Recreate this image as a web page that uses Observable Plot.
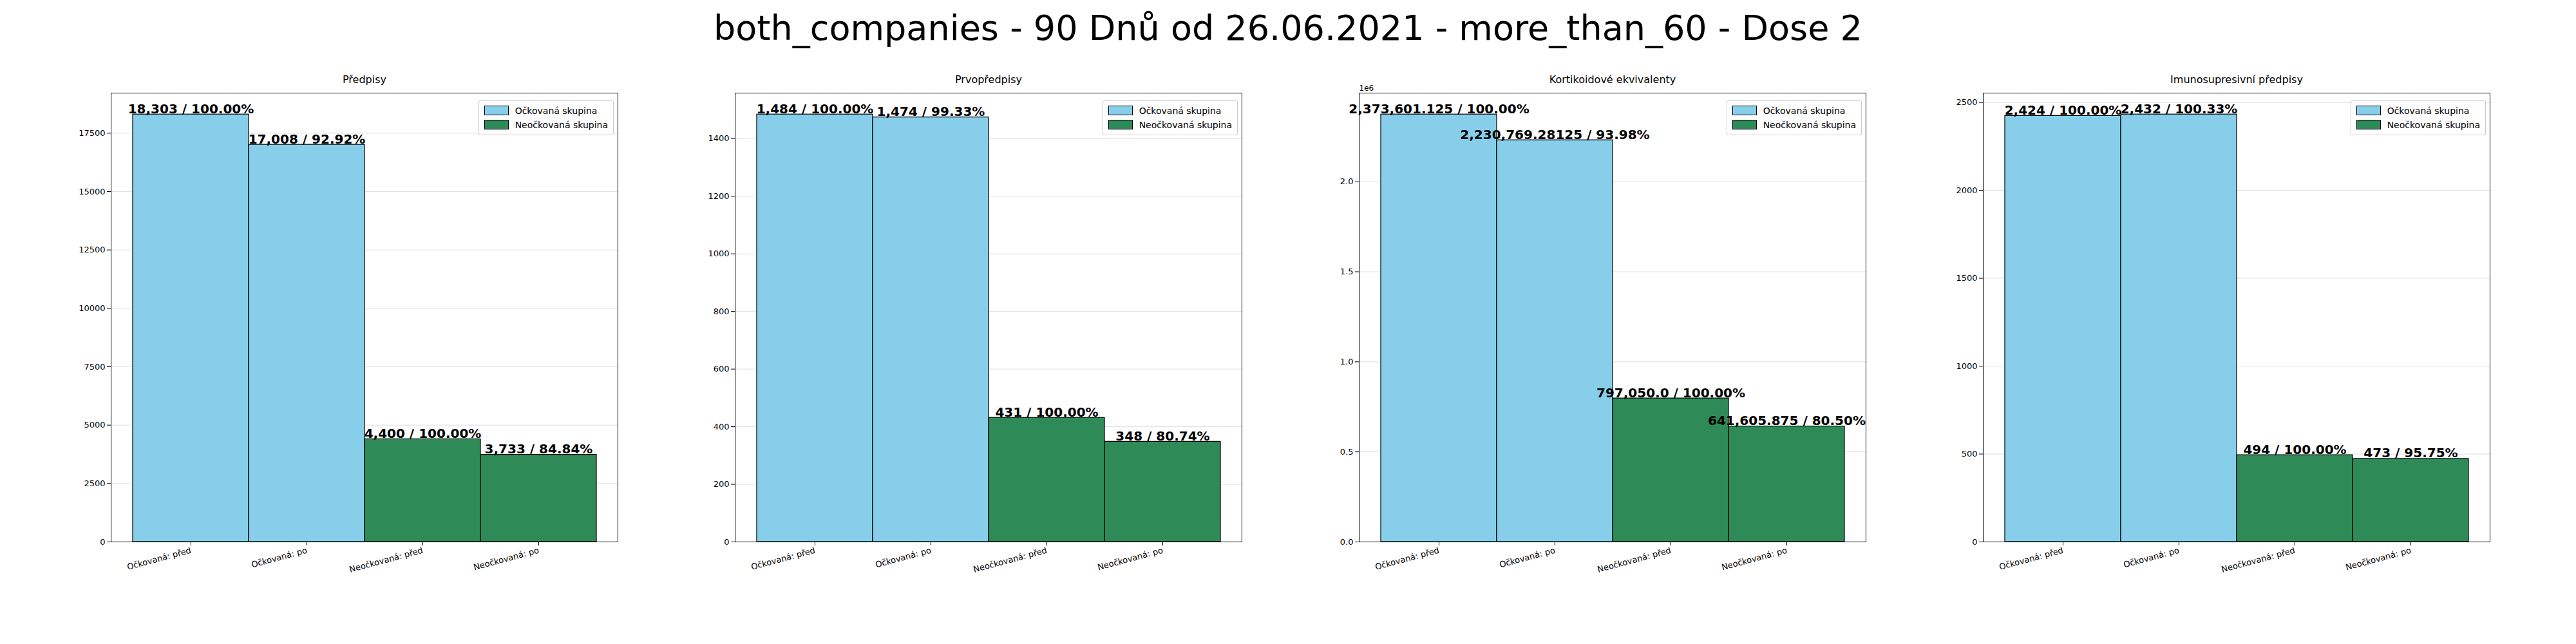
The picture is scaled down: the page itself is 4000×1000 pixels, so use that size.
<!DOCTYPE html>
<html>
<head>
<meta charset="utf-8">
<script src="https://cdn.jsdelivr.net/npm/d3@7"></script>
<script src="https://cdn.jsdelivr.net/npm/@observablehq/plot@0.6"></script>
<style>
  body { margin: 0; background: white; font-family: "DejaVu Sans", sans-serif; }
  #title { position: absolute; top: 12px; width: 4000px; text-align: center; font-size: 54px; }
  #charts { position: absolute; top: 100px; left: 0; display: flex; }
  .panel { position: relative; width: 969px; }
  .legend { position: absolute; top: 56px; right: 16px; border: 1px solid #ccc; border-radius: 3px;
            background: rgba(255,255,255,0.8); padding: 4px 8px; font-size: 14px; line-height: 22px; }
  .sw { display: inline-block; width: 36px; height: 13px; border: 1px solid black; vertical-align: -2px; margin-right: 10px; }
</style>
</head>
<body>
<div id="title">both_companies - 90 Dnů od 26.06.2021 - more_than_60 - Dose 2</div>
<div id="charts"></div>
<script>
const categories = ["Očkovaná: před", "Očkovaná: po", "Neočkovaná: před", "Neočkovaná: po"];
const groups = ["Očkovaná skupina", "Očkovaná skupina", "Neočkovaná skupina", "Neočkovaná skupina"];
const panelTitles = ["Předpisy", "Prvopředpisy", "Kortikoidové ekvivalenty", "Imunosupresivní předpisy"];

const predpisy = [18303, 17008, 4400, 3733];
const prvopredpisy = [1484, 1474, 431, 348];
const kortikoidy = [2373601.125, 2230769.28125, 797050.0, 641605.875];
const imuno = [2424, 2432, 494, 473];

const predpisyLabels = ["18,303 / 100.00%", "17,008 / 92.92%", "4,400 / 100.00%", "3,733 / 84.84%"];
const prvopredpisyLabels = ["1,484 / 100.00%", "1,474 / 99.33%", "431 / 100.00%", "348 / 80.74%"];
const kortikoidyLabels = ["2,373,601.125 / 100.00%", "2,230,769.28125 / 93.98%", "797,050.0 / 100.00%", "641,605.875 / 80.50%"];
const imunoLabels = ["2,424 / 100.00%", "2,432 / 100.33%", "494 / 100.00%", "473 / 95.75%"];

const predpisyTicks = [0, 2500, 5000, 7500, 10000, 12500, 15000, 17500];
const prvopredpisyTicks = [0, 200, 400, 600, 800, 1000, 1200, 1400];
const kortikoidyTicks = [0, 500000, 1000000, 1500000, 2000000];
const imunoTicks = [0, 500, 1000, 1500, 2000, 2500];

const panels = [
  {values: predpisy, labels: predpisyLabels, ticks: predpisyTicks, fmt: d3.format("d")},
  {values: prvopredpisy, labels: prvopredpisyLabels, ticks: prvopredpisyTicks, fmt: d3.format("d")},
  {values: kortikoidy, labels: kortikoidyLabels, ticks: kortikoidyTicks, fmt: d => (d / 1e6).toFixed(1), exp: "1e6"},
  {values: imuno, labels: imunoLabels, ticks: imunoTicks, fmt: d3.format("d")}
];

const colors = {"Očkovaná skupina": "#87CEEB", "Neočkovaná skupina": "#2E8B57"};

panels.forEach((p, i) => {
  const data = categories.map((c, j) => ({cat: c, group: groups[j], value: p.values[j], label: p.labels[j]}));
  const ymax = d3.max(p.values) * 1.05;
  const chart = Plot.plot({
    width: 969,
    height: 821,
    marginLeft: 172,
    marginRight: 10,
    marginTop: 44,
    marginBottom: 80,
    style: {fontSize: "13px", fontFamily: "DejaVu Sans, sans-serif"},
    x: {domain: categories, paddingInner: 0, paddingOuter: 0.175, label: null, tickRotate: -15, tickSize: 6},
    y: {domain: [0, ymax], ticks: p.ticks, tickFormat: p.fmt, label: null, tickSize: 6},
    color: {domain: Object.keys(colors), range: Object.values(colors)},
    marks: [
      Plot.gridY(p.ticks, {stroke: "#ccc", strokeOpacity: 0.6}),
      Plot.barY(data, {x: "cat", y: "value", fill: "group", stroke: "black", strokeWidth: 1.2, inset: 0}),
      Plot.text(data, {x: "cat", y: "value", text: "label", lineAnchor: "bottom", dy: -2,
                       fontSize: 20, fontWeight: "bold", fill: "black"}),
      Plot.text([panelTitles[i]], {frameAnchor: "top", dy: -16, fontSize: 16, lineAnchor: "bottom", fill: "black"}),
      ...(p.exp ? [Plot.text([p.exp], {frameAnchor: "top-left", dy: -4, dx: 0, lineAnchor: "bottom", fontSize: 12})] : []),
      Plot.frame({stroke: "black"})
    ]
  });
  const div = d3.select("#charts").append("div").attr("class", "panel");
  div.append(() => chart);
  const leg = div.append("div").attr("class", "legend");
  Object.entries(colors).forEach(([k, v]) => {
    const row = leg.append("div");
    row.append("span").attr("class", "sw").style("background", v);
    row.append("span").text(k);
  });
});
</script>
</body>
</html>
